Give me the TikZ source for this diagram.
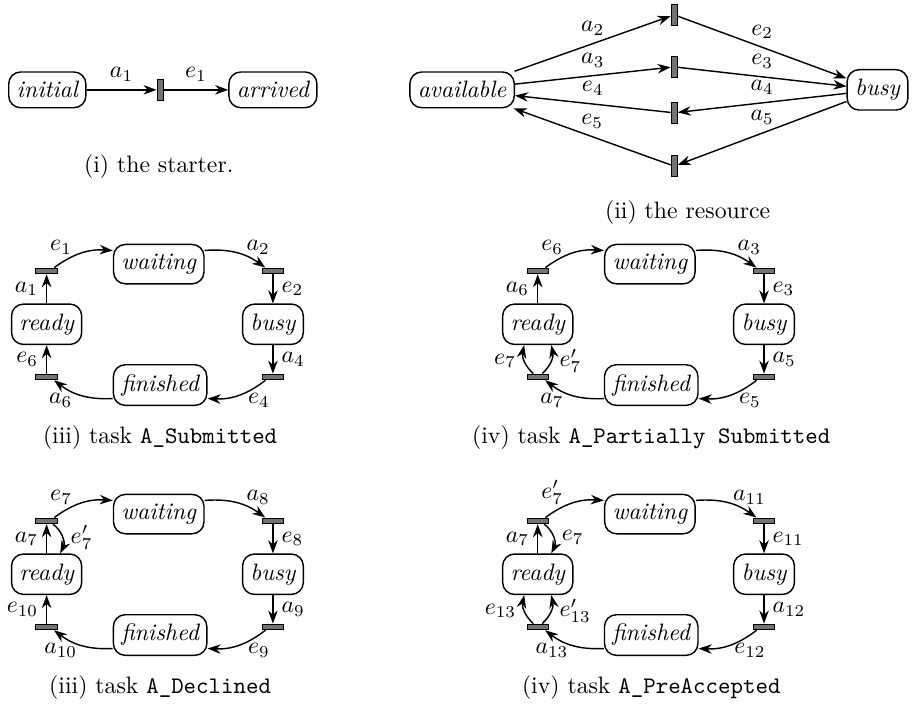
\documentclass[tikz,border=0pt]{standalone}
\usepackage{amsmath}
\usepackage{tikz}
\usetikzlibrary{arrows.meta}
\tikzset{>={Stealth[length=5.5pt,width=4pt]}}

\begin{document}
\begin{tikzpicture}[semithick,
		state/.style={draw,rounded corners=5pt,inner ysep=4pt,font=\itshape},
		vtrans/.style={draw,thin,fill=black!55,minimum width=2.6pt,minimum height=9pt,inner sep=0pt},
		htrans/.style={draw,thin,fill=black!55,minimum width=9pt,minimum height=2.4pt,inner sep=0pt}
	]
	\useasboundingbox (0,0) rectangle (13.5,-10.51);

	% the starter
	\node[state] (init) at (0.70,-1.33) {initial};
	\node[vtrans] (st) at (2.37,-1.33) {};
	\node[state] (arr) at (4.04,-1.33) {arrived};
	\draw[->] (init) -- node[above] {$a_1$} (st);
	\draw[->] (st) -- node[above] {$e_1$} (arr);
	\node (capi) at (2.35,-2.47) {(i) the starter.};

	% the resource
	\node[state] (av) at (6.84,-1.33) {available};
	\node[state] (bu) at (12.99,-1.33) {busy};
	\foreach \i/\y in {1/-0.22,2/-0.99,3/-1.67,4/-2.46}
		\node[vtrans] (r\i) at (9.98,\y) {};
	\draw[->] (av) -- node[above] {$a_2$} (r1);
	\draw[->] (r1) -- node[above] {$e_2$} (bu);
	\draw[->] (av) -- node[above] {$a_3$} (r2);
	\draw[->] (r2) -- node[above] {$e_3$} (bu);
	\draw[->] (bu) -- node[above] {$a_4$} (r3);
	\draw[->] (r3) -- node[above] {$e_4$} (av);
	\draw[->] (bu) -- node[above] {$a_5$} (r4);
	\draw[->] (r4) -- node[above] {$e_5$} (av);
	\node (capii) at (10.18,-3.15) {(ii) the resource};

	% the four tasks
	\foreach \p/\sx/\sy/\et/\at/\ea/\ab/\eb/\aa/\capt in {%
		A/0/0/e_1/a_2/e_2/a_4/e_4/a_6/{(iii) task \texttt{A\_Submitted}},
		B/7.27/0/e_6/a_3/e_3/a_5/e_5/a_7/{(iv) task \texttt{A\_Partially Submitted}},
		C/0/-3.7/e_7/a_8/e_8/a_9/e_9/a_{10}/{(iii) task \texttt{A\_Declined}},
		D/7.27/-3.7/e'_7/a_{11}/e_{11}/a_{12}/e_{12}/a_{13}/{(iv) task \texttt{A\_PreAccepted}}}
	{
		\begin{scope}[xshift=\sx cm,yshift=\sy cm]
			\node[htrans] (tl\p) at (0.69,-4.01) {};
			\node[state] (wt\p) at (2.35,-3.91) {waiting};
			\node[htrans] (tr\p) at (4.04,-4.01) {};
			\node[state] (rd\p) at (0.69,-4.80) {ready};
			\node[state] (bs\p) at (4.04,-4.80) {busy};
			\node[htrans] (bl\p) at (0.69,-5.58) {};
			\node[state] (fn\p) at (2.37,-5.70) {finished};
			\node[htrans] (br\p) at (4.04,-5.58) {};
			\node (cap\p) at (2.37,-6.48) {\capt};

			\draw[->] (tl\p) to[bend left=20] node[pos=.12,above] {$\et$} (wt\p);
			\draw[->] (wt\p) to[bend left=20] node[pos=.88,above] {$\at$} (tr\p);
			\draw[->] (tr\p) -- node[right] {$\ea$} (bs\p);
			\draw[->] (bs\p) -- node[right] {$\ab$} (br\p);
			\draw[->] (br\p) to[bend left=20] node[pos=.12,below] {$\eb$} (fn\p);
			\draw[->] (fn\p) to[bend left=20] node[pos=.88,below] {$\aa$} (bl\p);
		\end{scope}
	}

	% task A_Submitted
	\draw[->] (rdA) -- node[left] {$a_1$} (tlA);
	\draw[->] (blA) -- node[left] {$e_6$} (rdA);
	% task A_Partially Submitted
	\draw[->] (rdB) -- node[left] {$a_6$} (tlB);
	\draw[->] (blB) to[bend left=30] node[left] {$e_7$} (rdB.237);
	\draw[->] (blB) to[bend right=30] node[right] {$e'_7$} (rdB.303);
	% task A_Declined
	\draw[->] (rdC) -- node[left] {$a_7$} (tlC);
	\draw[->] (tlC) to[bend left=40] node[right] {$e'_7$} (rdC.57);
	\draw[->] (blC) -- node[left] {$e_{10}$} (rdC);
	% task A_PreAccepted
	\draw[->] (rdD) -- node[left] {$a_7$} (tlD);
	\draw[->] (tlD) to[bend left=40] node[right] {$e_7$} (rdD.57);
	\draw[->] (blD) to[bend left=30] node[left] {$e_{13}$} (rdD.237);
	\draw[->] (blD) to[bend right=30] node[right] {$e'_{13}$} (rdD.303);
\end{tikzpicture}
\end{document}
